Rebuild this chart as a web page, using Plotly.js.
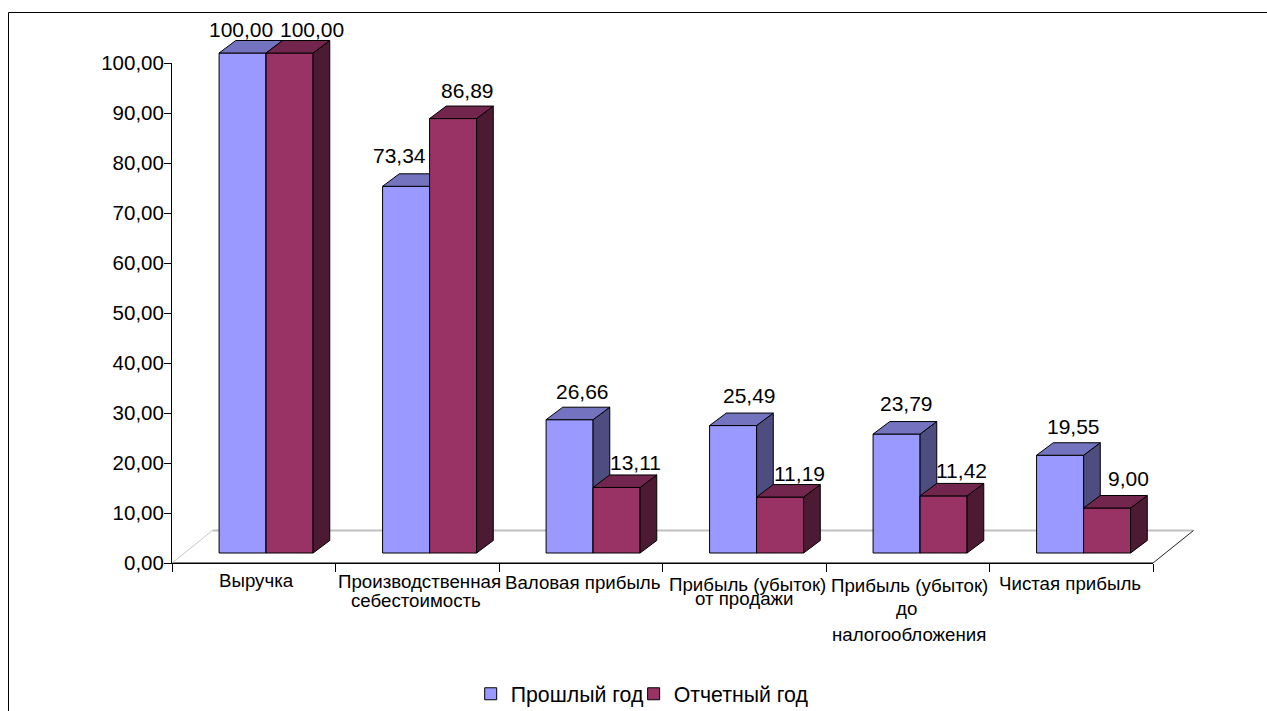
<!DOCTYPE html>
<html>
<head>
<meta charset="utf-8">
<script src="https://cdn.plot.ly/plotly-3.0.1.min.js"></script>
<style>html,body{margin:0;padding:0;background:#fff;overflow:hidden}</style>
</head>
<body>
<div id="chart" style="width:1267px;height:711px"></div>
<script>
// Values
const categoryLines = [
  ["Выручка"],
  ["Производственная", "себестоимость"],
  ["Валовая прибыль"],
  ["Прибыль (убыток)", "от продажи"],
  ["Прибыль (убыток)", "до", "налогообложения"],
  ["Чистая прибыль"]
];
const lastYear = [100.00, 73.34, 26.66, 25.49, 23.79, 19.55];
const thisYear = [100.00, 86.89, 13.11, 11.19, 11.42, 9.00];
const seriesNames = ["Прошлый год", "Отчетный год"];

// Hand placement of the category text lines, in pixels from category centre / axis
const lineShiftX = [[3], [2, -1], [2], [3.5, 0], [1.5, -1.5, 1.5], [-1]];
const lineShiftY = [[17.5], [18.7, 37], [19.5], [21, 35], [22, 45, 71], [20]];

// Hand placement of the value labels, in pixels from the bar's front top edge
const lastShiftX = [-2, -6.5, 12.7, 16, 10, 13];
const lastShiftY = [24, 31, 28.7, 30.5, 31, 29];
const thisShiftX = [22.5, 14.5, 18.5, 19.5, 18, 21.5];
const thisShiftY = [24, 28.5, 24.5, 24, 25, 30];

// Pseudo-3D geometry, in axis units
const barWidth = 0.2875, barOffset = 0.288;
const depthX = 0.102, depthY = 2.5, lift = 2;
const floorX = 0.2477, floorY = 6.5;

// Drawing area: the visible axes cover 0..6 and 0..100, the scene around them reaches further
const sceneXMax = 1030 / 163.5, sceneYMax = 110;

const font = "Liberation Sans, Arial, sans-serif";
const blue = {front: "#9999FF", top: "#7373BF", side: "#4D4D80"};
const wine = {front: "#993366", top: "#73264D", side: "#4D1A33"};

const fmt = v => v.toFixed(2).replace(".", ",");

function polys(build, values, left) {
  const xs = [], ys = [];
  values.forEach((v, i) => {
    const [px, py] = build(i + left, v + lift);
    xs.push(...px, null); ys.push(...py, null);
  });
  return {x: xs, y: ys};
}
const sideFace = (l, t) => [
  [l + barWidth, l + barWidth + depthX, l + barWidth + depthX, l + barWidth, l + barWidth],
  [lift, lift + depthY, t + depthY, t, lift]
];
const topFace = (l, t) => [
  [l, l + depthX, l + barWidth + depthX, l + barWidth, l],
  [t, t + depthY, t + depthY, t, t]
];

function faceTrace(geom, color, ax) {
  return {
    type: "scatter", mode: "lines", x: geom.x, y: geom.y, fill: "toself", fillcolor: color,
    line: {color: "#000", width: 1}, showlegend: false, hoverinfo: "skip",
    xaxis: ax[0], yaxis: ax[1]
  };
}
function seriesTraces(name, values, left, colors, ax, legendId) {
  return [
    {
      type: "bar", name: name, x: values.map((_, i) => i + left + barWidth / 2), y: values,
      base: values.map(() => lift), width: barWidth, legend: legendId,
      marker: {color: colors.front, line: {color: "#000", width: 1}},
      xaxis: ax[0], yaxis: ax[1]
    },
    faceTrace(polys(sideFace, values, left), colors.side, ax),
    faceTrace(polys(topFace, values, left), colors.top, ax)
  ];
}
function floorLine(xs, ys, color, width) {
  return {
    type: "scatter", mode: "lines", x: xs, y: ys, line: {color: color, width: width},
    showlegend: false, hoverinfo: "skip", xaxis: "x2", yaxis: "y2"
  };
}

const n = categoryLines.length;
const traces = [
  // Front edge of the floor, on the subplot that carries the visible axes
  {
    type: "scatter", mode: "lines", x: [0, n], y: [0, 0], line: {color: "#000", width: 1},
    showlegend: false, hoverinfo: "skip", cliponaxis: false, xaxis: "x", yaxis: "y"
  },
  floorLine([0, floorX], [0, floorY], "#C8C8C8", 1),
  floorLine([floorX, n + floorX], [floorY, floorY], "#C0C0C0", 2),
  floorLine([n, n + floorX], [0, floorY], "#222", 1),
  ...seriesTraces(seriesNames[0], lastYear, barOffset, blue, ["x3", "y3"], "legend"),
  ...seriesTraces(seriesNames[1], thisYear, barOffset + barWidth, wine, ["x4", "y4"], "legend2")
];

const annotations = [];
categoryLines.forEach((lines, i) => lines.forEach((text, k) => annotations.push({
  text: text, x: i + 0.5, y: 0, xref: "x2", yref: "y2", showarrow: false,
  xanchor: "center", yanchor: "middle",
  xshift: lineShiftX[i][k], yshift: -lineShiftY[i][k],
  font: {family: font, size: 18.7, color: "#000"}
})));
function valueLabels(values, left, dx, dy) {
  values.forEach((v, i) => annotations.push({
    text: fmt(v), x: i + left + barWidth / 2, y: v + lift, xref: "x2", yref: "y2", showarrow: false,
    xanchor: "center", yanchor: "middle", xshift: dx[i], yshift: dy[i],
    font: {family: font, size: 21, color: "#000"}
  }));
}
valueLabels(lastYear, barOffset, lastShiftX, lastShiftY);
valueLabels(thisYear, barOffset + barWidth, thisShiftX, thisShiftY);

const sceneX = {visible: false, fixedrange: true, range: [0, sceneXMax], domain: [0, 1]};
const sceneY = {visible: false, fixedrange: true, range: [0, sceneYMax], domain: [0, 1]};
const legendBase = {
  orientation: "h", xref: "container", yref: "container", y: 0.024,
  xanchor: "left", yanchor: "middle", font: {family: font, size: 21.3, color: "#000"},
  bgcolor: "rgba(0,0,0,0)"
};
const layout = {
  width: 1267, height: 711,
  margin: {l: 172, r: 65, t: 13, b: 148, autoexpand: false},
  paper_bgcolor: "#fff", plot_bgcolor: "rgba(0,0,0,0)",
  separators: ", ",
  barmode: "overlay",
  font: {family: font, color: "#000"},
  xaxis: {
    range: [0, n], domain: [0, 981 / 1030], tickmode: "array", tickvals: [0, 1, 2, 3, 4, 5, 6],
    showticklabels: false, ticks: "outside", ticklen: 8, tickcolor: "#000", showgrid: false,
    zeroline: false, showline: true, linecolor: "#000", linewidth: 1, anchor: "y"
  },
  yaxis: {
    range: [0, 100], domain: [0, 500 / 550], dtick: 10, tickformat: ".2f", ticks: "outside",
    ticklen: 7, tickcolor: "#000", tickfont: {family: font, size: 20.5, color: "#000"},
    ticklabelstandoff: -4, showgrid: false, zeroline: false, showline: true,
    linecolor: "#000", linewidth: 1, anchor: "x"
  },
  xaxis2: {...sceneX, anchor: "y2"},
  yaxis2: {...sceneY, anchor: "x2"},
  xaxis3: {...sceneX, anchor: "y3", overlaying: "x2"},
  yaxis3: {...sceneY, anchor: "x3", overlaying: "y2"},
  xaxis4: {...sceneX, anchor: "y4", overlaying: "x2"},
  yaxis4: {...sceneY, anchor: "x4", overlaying: "y2"},
  legend: {...legendBase, x: 0.3715},
  legend2: {...legendBase, x: 0.5001},
  shapes: [{
    type: "rect", xref: "paper", yref: "paper", layer: "below",
    x0: (8.5 - 172) / 1030, x1: 1.2, y0: -0.4, y1: (563 - 12.5) / 550,
    line: {color: "#000", width: 1}, fillcolor: "rgba(0,0,0,0)"
  }],
  annotations: annotations,
  showlegend: true
};
Plotly.newPlot("chart", traces, layout, {displayModeBar: false, responsive: false});
</script>
</body>
</html>
